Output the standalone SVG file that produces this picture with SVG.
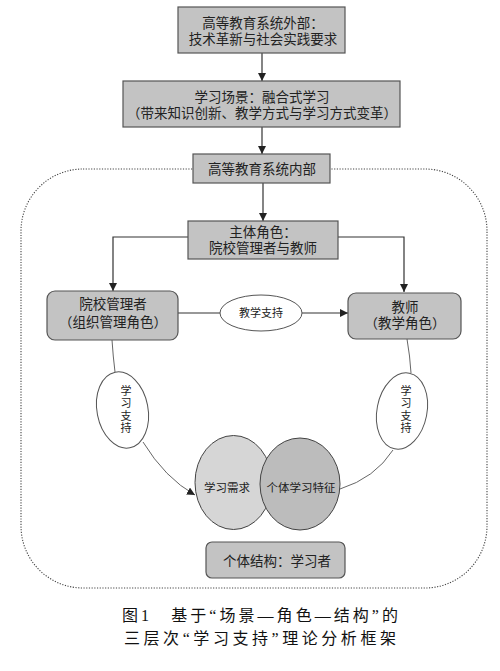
<svg xmlns="http://www.w3.org/2000/svg" width="500" height="671" viewBox="0 0 500 671">
<style>
text{font-family:"Liberation Sans","Noto Sans CJK SC",sans-serif;fill:#222;text-anchor:middle;dominant-baseline:central}
.box{fill:#c3c3c3;stroke:#555;stroke-width:1.2}
.t{font-size:13.5px}
.s{font-size:11px}
.vt{font-size:11px;writing-mode:vertical-rl;letter-spacing:1.5px}
.ln{fill:none;stroke:#333;stroke-width:1.2}
.cv{fill:none;stroke:#555;stroke-width:0.9}
.el{fill:#fff;stroke:#555;stroke-width:1}
.cap{font-family:"Liberation Serif","Noto Sans CJK SC",serif;font-size:16px;fill:#111}
</style>
<defs>
<marker id="ar" viewBox="0 0 10 10" refX="10" refY="5" markerWidth="8" markerHeight="8" markerUnits="userSpaceOnUse" orient="auto">
<path d="M0,0 L10,5 L0,10 z" fill="#222"/>
</marker>
</defs>
<rect x="21" y="169" width="466" height="419" rx="62" ry="62" fill="none" stroke="#444" stroke-width="1.1" stroke-dasharray="1.2 1.5"/>
<g id="connectors">
<line class="ln" x1="262" y1="53" x2="262" y2="81" marker-end="url(#ar)"/>
<line class="ln" x1="262" y1="127" x2="262" y2="154" marker-end="url(#ar)"/>
<line class="ln" x1="263" y1="183" x2="263" y2="221" marker-end="url(#ar)"/>
<polyline class="ln" points="188,237 113,237 113,291" marker-end="url(#ar)"/>
<polyline class="ln" points="338,237 404,237 404,292" marker-end="url(#ar)"/>
<line class="ln" x1="178" y1="313" x2="220" y2="313"/>
<line class="ln" x1="302" y1="313" x2="348" y2="313" marker-end="url(#ar)"/>
<path class="cv" d="M112,340 Q113,356 115,372"/>
<path class="cv" d="M143,442 Q165,478 195,495" marker-end="url(#ar)"/>
<path class="cv" d="M407,339 Q410,356 411,373"/>
<path class="cv" d="M393,450 Q375,478 340,489"/>
</g>
<g id="n1"><rect class="box" x="178" y="7" width="167" height="46"/>
<text class="t"><tspan x="263" y="23">高等教育系统外部：</tspan><tspan x="263" y="39">技术革新与社会实践要求</tspan></text></g>
<g id="n2"><rect class="box" x="123" y="81" width="277" height="46"/>
<text class="t"><tspan x="262" y="97">学习场景：融合式学习</tspan><tspan x="262" y="113">（带来知识创新、教学方式与学习方式变革）</tspan></text></g>
<g id="n3"><rect class="box" x="193" y="154" width="137" height="29"/>
<text class="t" x="262" y="169">高等教育系统内部</text></g>
<g id="n4"><rect class="box" x="188" y="221" width="150" height="38"/>
<text class="t"><tspan x="263" y="232">主体角色：</tspan><tspan x="263" y="248">院校管理者与教师</tspan></text></g>
<g id="n5"><rect class="box" x="47" y="291" width="131" height="49" rx="8"/>
<text class="t"><tspan x="113" y="304">院校管理者</tspan><tspan x="113" y="322">（组织管理角色）</tspan></text></g>
<g id="n6"><rect class="box" x="348" y="293" width="113" height="46" rx="8"/>
<text class="t"><tspan x="405" y="307">教师</tspan><tspan x="405" y="323">（教学角色）</tspan></text></g>
<g id="e1"><ellipse class="el" cx="261" cy="313" rx="41" ry="18"/>
<text class="s" x="261" y="313">教学支持</text></g>
<g id="e2"><ellipse class="el" cx="122.5" cy="410" rx="25.5" ry="38.5" transform="rotate(-11 122.5 410)"/>
<text class="vt" x="125" y="410">学习支持</text></g>
<g id="e3"><ellipse class="el" cx="402" cy="411" rx="25" ry="38.5" transform="rotate(11 402 411)"/>
<text class="vt" x="405" y="410">学习支持</text></g>
<g id="v1"><ellipse cx="233.5" cy="482.5" rx="38.5" ry="47" fill="#d6d6d6" stroke="#444" stroke-width="1"/>
<text x="227" y="488" style="font-size:11.5px">学习需求</text></g>
<g id="v2"><ellipse cx="300" cy="484" rx="40" ry="46" fill="#bcbcbc" stroke="#444" stroke-width="1"/>
<text x="301" y="488" style="font-size:11.5px">个体学习特征</text></g>
<g id="n7"><rect class="box" x="206" y="542" width="139" height="36" rx="6"/>
<text class="t" x="277" y="561">个体结构：学习者</text></g>
<g id="caption">
<text class="cap"><tspan x="260" y="615" textLength="276" lengthAdjust="spacing">图1　基于“场景—角色—结构”的</tspan><tspan x="260" y="638" textLength="272" lengthAdjust="spacing">三层次“学习支持”理论分析框架</tspan></text>
</g>
</svg>
